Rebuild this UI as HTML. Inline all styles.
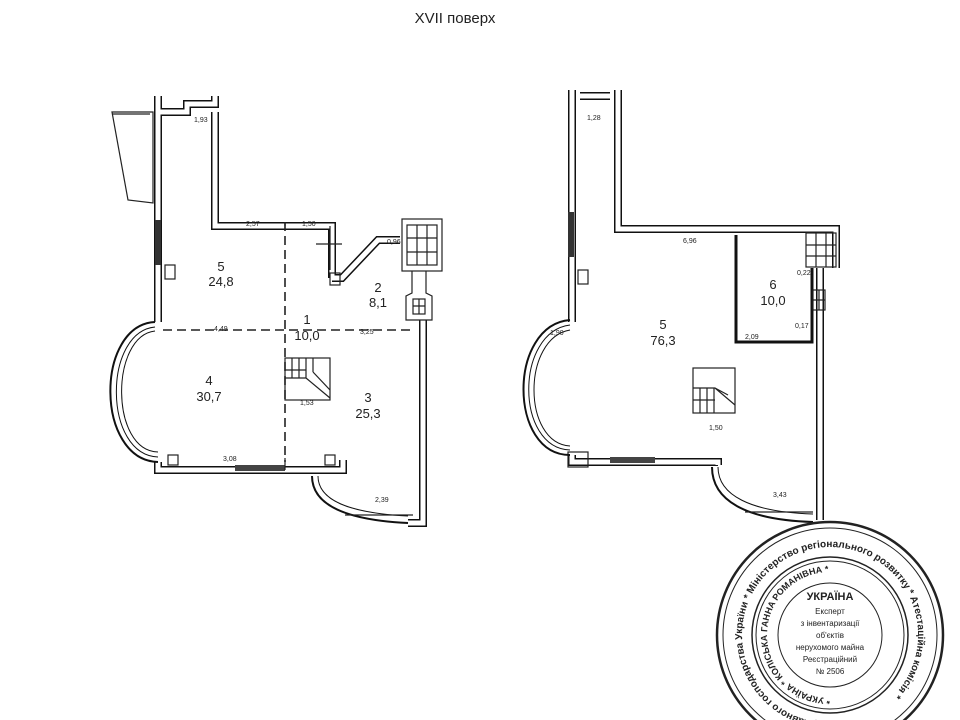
<!DOCTYPE html>
<html><head><meta charset="utf-8"><style>
html,body{margin:0;padding:0;background:#fff;width:960px;height:720px;overflow:hidden}
svg{display:block}
text{font-family:"Liberation Sans",sans-serif;fill:#222}
</style></head><body>
<svg width="960" height="720" viewBox="0 0 960 720">
<defs>
<style>
.w{fill:none;stroke:#111;stroke-width:8;stroke-linejoin:miter}
.wi{fill:none;stroke:#fff;stroke-width:5;stroke-linejoin:miter}
.t{fill:none;stroke:#222;stroke-width:1.2}
.d{fill:none;stroke:#222;stroke-width:1.6;stroke-dasharray:9 5}
.dim{font-size:7px}
.big{font-size:13px}
</style>
</defs>
<text x="455" y="23" font-size="15" text-anchor="middle">XVII поверх</text>

<!-- LEFT PLAN -->
<g id="L">
<path d="M112,112 L153,112 L153,203 L128,200 Z" class="t"/>
<path d="M112,114 L150,114" class="t"/>
<g>
<path class="w" d="M158,112 L158,322 M158,462 L158,470 L343,470 L343,460 M215,112 L215,226 L332,226 L332,278 M158,96 L158,112 L187,112 L187,104 L215,104 L215,96 M332,278 L342,278 L378,240 L400,240 M423,320 L423,523 L408,523"/>
<path class="wi" d="M158,112 L158,322 M158,462 L158,470 L343,470 L343,460 M215,112 L215,226 L332,226 L332,278 M158,96 L158,112 L187,112 L187,104 L215,104 L215,96 M332,278 L342,278 L378,240 L400,240 M423,320 L423,523 L408,523"/>
</g>
<rect x="402" y="219" width="40" height="52" class="t" stroke-width="2"/>
<rect x="407" y="225" width="30" height="40" class="t"/>
<path d="M417,225 V265 M427,225 V265 M407,238 H437 M407,252 H437" class="t"/>
<path d="M412,271 L412,293 L406,296 L406,320 L432,320 L432,296 L426,293 L426,271" class="t" stroke-width="2"/>
<rect x="413" y="299" width="12" height="15" class="t"/>
<path d="M419,299 V314 M413,306 H425" class="t"/>
<rect x="155" y="220" width="6" height="45" fill="#333"/>
<rect x="235" y="465" width="50" height="6" fill="#444"/>
<rect x="168" y="455" width="10" height="10" class="t"/>
<rect x="325" y="455" width="10" height="10" class="t"/>
<rect x="165" y="265" width="10" height="14" class="t"/>
<rect x="330" y="273" width="10" height="12" class="t"/>
<path d="M155,322 C95,325 95,460 158,462" fill="none" stroke="#111" stroke-width="2"/>
<path d="M155,327 C103,332 103,455 158,457" fill="none" stroke="#111" stroke-width="1"/>
<path d="M155,331 C110,336 110,451 158,452" fill="none" stroke="#111" stroke-width="1"/>
<path d="M312,476 C312,505 345,520 408,523" fill="none" stroke="#111" stroke-width="2"/>
<path d="M318,476 C318,500 348,513 408,516" fill="none" stroke="#111" stroke-width="1"/>
<path d="M345,515 L413,515" class="t"/>
<path class="d" d="M163,330 L413,330"/>
<path class="d" d="M285,222 L285,462"/>
<path d="M285,222 L285,226 M285,458 L285,470" class="t"/>
<path d="M330,226 L330,270" class="t"/>
<path d="M316,244 L342,244" class="t"/>
<rect x="285" y="358" width="45" height="42" class="t"/>
<path d="M292,358 V378 M299,358 V378 M306,358 V378 M313,358 V372 M285,370 H306 M285,378 H306 M306,378 L330,398 M313,372 L330,390" class="t"/>
<text x="221" y="271" class="big" text-anchor="middle">5</text>
<text x="221" y="286" class="big" text-anchor="middle">24,8</text>
<text x="307" y="324" class="big" text-anchor="middle">1</text>
<text x="307" y="340" class="big" text-anchor="middle">10,0</text>
<text x="378" y="292" class="big" text-anchor="middle">2</text>
<text x="378" y="307" class="big" text-anchor="middle">8,1</text>
<text x="209" y="385" class="big" text-anchor="middle">4</text>
<text x="209" y="401" class="big" text-anchor="middle">30,7</text>
<text x="368" y="402" class="big" text-anchor="middle">3</text>
<text x="368" y="418" class="big" text-anchor="middle">25,3</text>
<text x="194" y="122" class="dim">1,93</text>
<text x="246" y="226" class="dim">2,57</text>
<text x="302" y="226" class="dim">1,50</text>
<text x="214" y="331" class="dim">4,49</text>
<text x="360" y="334" class="dim">3,25</text>
<text x="300" y="405" class="dim">1,53</text>
<text x="223" y="461" class="dim">3,08</text>
<text x="375" y="502" class="dim">2,39</text>
<text x="387" y="244" class="dim">0,96</text>
</g>

<!-- RIGHT PLAN -->
<g>
<path class="w" d="M572,90 L572,322 M572,455 L572,462 L718,462 L718,465 M618,90 L618,229 L836,229 L836,268 M580,96 L610,96 M820,268 L820,520"/>
<path class="wi" d="M572,90 L572,322 M572,455 L572,462 L718,462 L718,465 M618,90 L618,229 L836,229 L836,268 M580,96 L610,96 M820,268 L820,520"/>
<path d="M736,235 L736,342 L812,342 L812,268" fill="none" stroke="#111" stroke-width="3"/>
<rect x="806" y="233" width="30" height="34" class="t" stroke-width="1.5"/>
<path d="M816,233 V267 M826,233 V267 M806,245 H836 M806,256 H836" class="t"/>
<rect x="813" y="290" width="12" height="20" class="t"/>
<path d="M819,290 V310 M813,300 H825" class="t"/>
<rect x="568" y="212" width="6" height="45" fill="#333"/>
<rect x="578" y="270" width="10" height="14" class="t"/>
<rect x="610" y="457" width="45" height="6" fill="#444"/>
<rect x="568" y="452" width="20" height="15" class="t"/>
<path d="M570,320 C508,325 508,455 570,455" fill="none" stroke="#111" stroke-width="2"/>
<path d="M570,325 C515,332 515,448 570,450" fill="none" stroke="#111" stroke-width="1"/>
<path d="M570,330 C522,338 522,443 570,446" fill="none" stroke="#111" stroke-width="1"/>
<path d="M712,467 C712,500 745,520 813,522" fill="none" stroke="#111" stroke-width="2"/>
<path d="M718,467 C718,495 750,512 813,514" fill="none" stroke="#111" stroke-width="1"/>
<path d="M745,512 L813,512" class="t"/>
<rect x="693" y="368" width="42" height="45" class="t"/>
<path d="M693,388 H715 L735,405 M693,400 H715 M700,388 V413 M707,388 V413 M714,388 V413 M715,388 L728,395" class="t"/>
<text x="663" y="329" class="big" text-anchor="middle">5</text>
<text x="663" y="345" class="big" text-anchor="middle">76,3</text>
<text x="773" y="289" class="big" text-anchor="middle">6</text>
<text x="773" y="305" class="big" text-anchor="middle">10,0</text>
<text x="587" y="120" class="dim">1,28</text>
<text x="683" y="243" class="dim">6,96</text>
<text x="745" y="339" class="dim">2,09</text>
<text x="550" y="335" class="dim">1,90</text>
<text x="709" y="430" class="dim">1,50</text>
<text x="773" y="497" class="dim">3,43</text>
<text x="797" y="275" class="dim">0,22</text>
<text x="795" y="328" class="dim">0,17</text>
</g>

<!-- STAMP -->
<g fill="none" stroke="#222">
<circle cx="830" cy="635" r="113" stroke-width="2.5"/>
<circle cx="830" cy="635" r="107" stroke-width="1"/>
<circle cx="830" cy="635" r="78" stroke-width="1.5"/>
<circle cx="830" cy="635" r="74" stroke-width="1"/>
<circle cx="830" cy="635" r="52" stroke-width="1"/>
</g>
<path id="arc1" d="M830,723 A88,88 0 1 1 830.1,723" fill="none"/>
<path id="arc2" d="M830,698 A63,63 0 1 1 830.1,698" fill="none"/>
<text font-size="10" font-weight="bold"><textPath href="#arc1">Державного господарства України * Міністерство регіонального розвитку * Атестаційна комісія *</textPath></text>
<text font-size="9" font-weight="bold"><textPath href="#arc2">* УКРАЇНА * КОЛІСЬКА ГАННА РОМАНІВНА *</textPath></text>
<g font-size="8" text-anchor="middle">
<text x="830" y="600" font-size="11" font-weight="bold">УКРАЇНА</text>
<text x="830" y="614">Експерт</text>
<text x="830" y="626">з інвентаризації</text>
<text x="830" y="638">об'єктів</text>
<text x="830" y="650">нерухомого майна</text>
<text x="830" y="662">Реєстраційний</text>
<text x="830" y="674">№ 2506</text>
</g>
</svg>
</body></html>
